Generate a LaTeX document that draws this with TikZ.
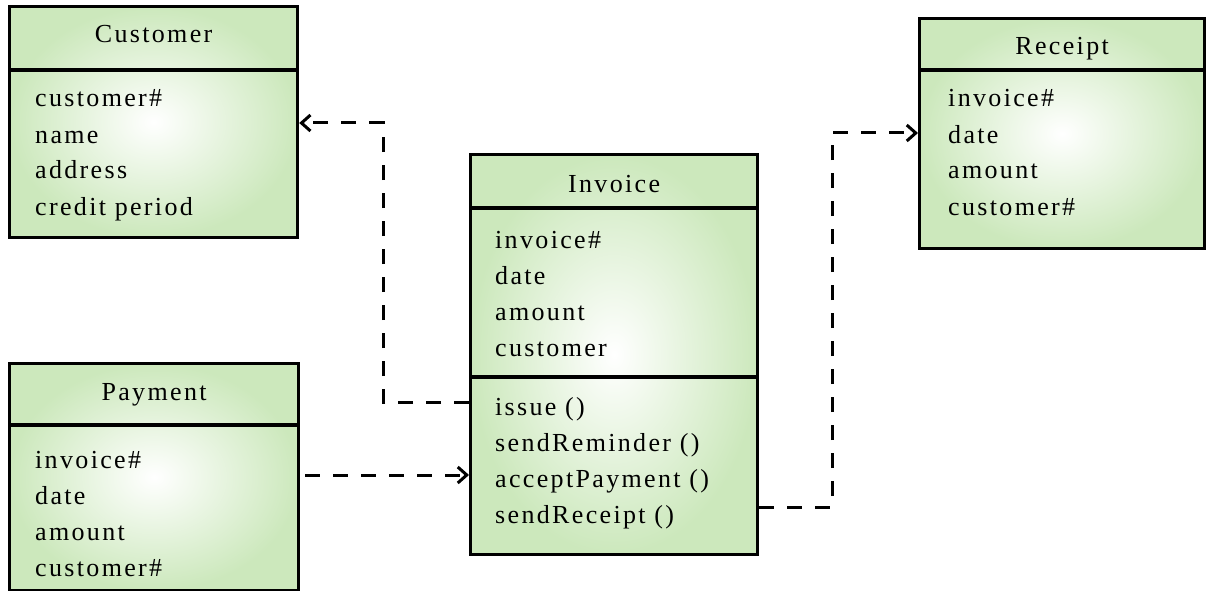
\documentclass[tikz,border=0pt]{standalone}
\usepackage{fontspec}
\setmainfont{Liberation Serif}[LetterSpace=9]
\usepackage{xcolor}
\usepackage{tikz}
\usetikzlibrary{arrows.meta,positioning,calc}

\definecolor{umlgreen}{RGB}{204,232,188}

\begin{document}
\begin{tikzpicture}[
    x=1pt, y=1pt,
    font=\fontsize{26}{36}\selectfont,
    clsbox/.style={rectangle, draw, line width=3.2pt, inner color=white, outer color=umlgreen, anchor=north west, inner sep=0pt},
    clsname/.style={anchor=base, inner sep=0pt},
    clsattrs/.style={align=left, text width=240pt, anchor=base west, inner sep=0pt},
    clsline/.style={line width=3.2pt},
    dep/.style={line width=3pt, dash pattern=on 15pt off 13pt, -{Straight Barb[length=9pt, width=16pt, line width=3pt]}}
]
    \useasboundingbox (0,0) rectangle (1207,-591);

    % Class boxes
    \node[clsbox, minimum width=288pt, minimum height=231pt] (cust) at (8,-5) {};
    \node[clsbox, minimum width=285pt, minimum height=230pt] (rec) at (918,-17) {};
    \node[clsbox, minimum width=287pt, minimum height=400pt] (inv) at (469,-153) {};
    \node[clsbox, minimum width=289pt, minimum height=227pt] (pay) at (8,-362) {};

    % Compartment lines
    \draw[clsline] ([yshift=-65pt]cust.north west) -- ([yshift=-65pt]cust.north east);
    \draw[clsline] ([yshift=-53pt]rec.north west) -- ([yshift=-53pt]rec.north east);
    \draw[clsline] ([yshift=-55pt]inv.north west) -- ([yshift=-55pt]inv.north east);
    \draw[clsline] ([yshift=-224pt]inv.north west) -- ([yshift=-224pt]inv.north east);
    \draw[clsline] ([yshift=-63pt]pay.north west) -- ([yshift=-63pt]pay.north east);

    % Class names
    \node[clsname, below=38pt of cust.north, anchor=base] (custname) {Customer};
    \node[clsname, below=38pt of rec.north, anchor=base] (recname) {Receipt};
    \node[clsname, below=39pt of inv.north, anchor=base] (invname) {Invoice};
    \node[clsname, below=38pt of pay.north, anchor=base] (payname) {Payment};

    % Attributes and operations
    \node[clsattrs] (custattr) at ([xshift=27pt, yshift=-102pt]cust.north west) {customer\#\\name\\address\\credit period};
    \node[clsattrs] (recattr) at ([xshift=30pt, yshift=-90pt]rec.north west) {invoice\#\\date\\amount\\customer\#};
    \node[clsattrs] (invattr) at ([xshift=26pt, yshift=-95pt]inv.north west) {invoice\#\\date\\amount\\customer};
    \node[clsattrs] (invops) at ([xshift=26pt, yshift=-262pt]inv.north west) {issue ()\\sendReminder ()\\acceptPayment ()\\sendReceipt ()};
    \node[clsattrs] (payattr) at ([xshift=27pt, yshift=-106pt]pay.north west) {invoice\#\\date\\amount\\customer\#};

    % Dependencies
    \draw[dep] ([yshift=-249pt]inv.north west) -- ++(-86,0) |- ([yshift=-118pt]cust.north east);
    \draw[dep] ([yshift=-113pt, xshift=5pt]pay.north east) -- ([yshift=-322pt]inv.north west);
    \draw[dep] ([yshift=-354pt]inv.north east) -- ++(73,0) |- ([yshift=-116pt]rec.north west);

\end{tikzpicture}
\end{document}
